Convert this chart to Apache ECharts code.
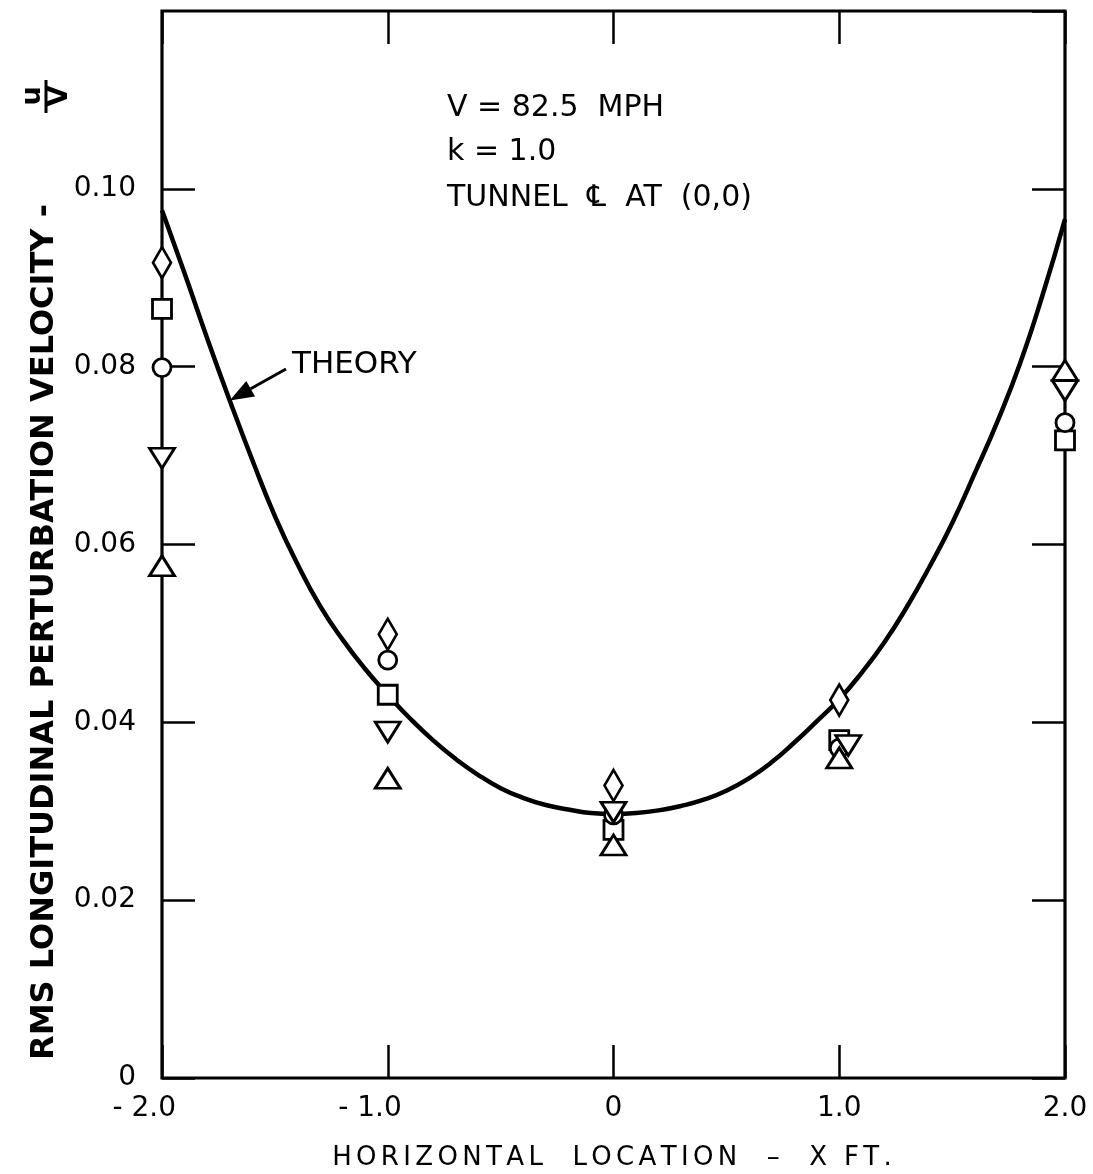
<!DOCTYPE html>
<html lang="en">
<head>
<meta charset="UTF-8">
<title>RMS longitudinal perturbation velocity</title>
<script src="https://cdn.jsdelivr.net/npm/echarts@6/dist/echarts.min.js"></script>
<style>
  html, body { margin: 0; padding: 0; background: #fff; }
  #main { width: 1093px; height: 1174px; }
</style>
</head>
<body>
<div id="main"></div>
<script>
// measured points, five symbols per station
const stationX = [-2, -1, 0, 1, 2];
const downTriX = [-2, -1, 0, 1.04, 2];
const diamondY = [0.0917, 0.0499, 0.0329, 0.0425, null];
const squareY = [0.0865, 0.0431, 0.0279, 0.0380, 0.0717];
const circleY = [0.0799, 0.0470, 0.0296, 0.0371, 0.0737];
const downTriY = [0.0697, 0.0389, 0.0299, 0.0374, 0.0773];
const upTriY = [0.0576, 0.0337, 0.0262, 0.0360, 0.0796];

// theory curve
const theoryX = [-2.0, -1.9, -1.8, -1.7, -1.6, -1.5, -1.4, -1.3, -1.2, -1.1, -1.0,
  -0.9, -0.8, -0.7, -0.6, -0.5, -0.4, -0.3, -0.2, -0.1, 0,
  0.1, 0.2, 0.3, 0.4, 0.5, 0.6, 0.7, 0.8, 0.9, 1.0,
  1.1, 1.2, 1.3, 1.4, 1.5, 1.6, 1.7, 1.8, 1.9, 2.0];
const theoryY = [0.0976, 0.0905, 0.0832, 0.0762, 0.0695, 0.0632, 0.0578, 0.0531, 0.0493, 0.0460, 0.0431,
  0.0404, 0.0380, 0.0359, 0.0341, 0.0326, 0.0315, 0.0307, 0.0302, 0.0298, 0.0297,
  0.0298, 0.0301, 0.0306, 0.0313, 0.0323, 0.0337, 0.0355, 0.0377, 0.0401, 0.0426,
  0.0456, 0.0490, 0.0530, 0.0575, 0.0624, 0.0680, 0.0738, 0.0803, 0.0880, 0.0966];

const notes = ['V = 82.5  MPH', 'k = 1.0', 'TUNNEL  \u2104  AT  (0,0)'];
const xTitle = 'HORIZONTAL  LOCATION  \u2013  X FT.';
const yTitle = 'RMS LONGITUDINAL PERTURBATION VELOCITY -';

const font = 'DejaVu Sans';
const chart = echarts.init(document.getElementById('main'));

function pairs(xs, ys) {
  const out = [];
  ys.forEach((y, i) => { if (y != null) out.push([xs[i], y]); });
  return out;
}

function marks(name, sym, size, rot, xs, ys) {
  return {
    name: name,
    type: 'scatter',
    symbol: sym,
    symbolSize: size,
    symbolRotate: rot,
    clip: false,
    z: 5,
    itemStyle: { color: '#fff', borderColor: '#000', borderWidth: 2.8, opacity: 1 },
    data: pairs(xs, ys)
  };
}

const tickStyle = { show: true, inside: true, length: 33, lineStyle: { color: '#000', width: 2.5 } };
const noLine = { show: false, onZero: false };

chart.setOption({
  animation: false,
  backgroundColor: '#fff',
  grid: {
    left: 162, right: 28, top: 11, bottom: 96,
    show: true, borderColor: '#000', borderWidth: 3.2
  },
  xAxis: [{
    type: 'value', min: -2, max: 2, interval: 1,
    axisLine: noLine,
    axisTick: tickStyle,
    splitLine: { show: false },
    axisLabel: {
      margin: 17, color: '#000', fontFamily: font, fontSize: 28,
      // the minus hangs to the left of the centred number
      formatter: v => v < 0 ? '- ' + Math.abs(v).toFixed(1) + '\u2007\u2007' : (v === 0 ? '0' : v.toFixed(1))
    }
  }, {
    type: 'value', position: 'top', min: -2, max: 2, interval: 1,
    axisLine: noLine, axisTick: tickStyle,
    splitLine: { show: false }, axisLabel: { show: false }
  }],
  yAxis: [{
    type: 'value', min: 0, max: 0.12, interval: 0.02,
    axisLine: noLine,
    axisTick: tickStyle,
    splitLine: { show: false },
    axisLabel: {
      margin: 26, color: '#000', fontFamily: font, fontSize: 28, showMaxLabel: false,
      formatter: v => v === 0 ? '0' : v.toFixed(2)
    }
  }, {
    type: 'value', position: 'right', min: 0, max: 0.12, interval: 0.02,
    axisLine: noLine, axisTick: tickStyle,
    splitLine: { show: false }, axisLabel: { show: false }
  }],
  series: [
    {
      name: 'Theory', type: 'line', smooth: true, symbol: 'none', z: 3,
      lineStyle: { color: '#000', width: 4.5 },
      data: theoryX.map((x, i) => [x, theoryY[i]])
    },
    marks('diamond', 'diamond', [18, 31], 0, stationX, diamondY),
    marks('square', 'rect', [19, 19], 0, stationX, squareY),
    marks('circle', 'circle', 18, 0, stationX, circleY),
    marks('down', 'triangle', [25, 20], 180, downTriX, downTriY),
    marks('up', 'triangle', [25, 20], 0, stationX, upTriY)
  ]
});

// annotations, arrow tip sits on the theory curve
const tip = chart.convertToPixel({ xAxisIndex: 0, yAxisIndex: 0 }, [-1.7, 0.0762]);
const tail = [286, 369];
const ang = Math.atan2(tip[1] - tail[1], tip[0] - tail[0]);
const head = 24, hw = 9;
const bx = tip[0] - head * Math.cos(ang), by = tip[1] - head * Math.sin(ang);

chart.setOption({
  graphic: [
    {
      type: 'text', x: 45, y: 632, rotation: Math.PI / 2,
      style: {
        text: yTitle,
        fontFamily: font, fontWeight: 'bold', fontSize: 32,
        fill: '#000', align: 'center', verticalAlign: 'middle'
      }
    },
    {
      type: 'text', x: 33, y: 96, rotation: Math.PI / 2,
      style: { text: 'u', fontFamily: font, fontWeight: 'bold', fontSize: 27, fill: '#000', align: 'center', verticalAlign: 'middle' }
    },
    {
      type: 'line', shape: { x1: 46, y1: 80, x2: 46, y2: 113 },
      style: { stroke: '#000', lineWidth: 3 }
    },
    {
      type: 'text', x: 60, y: 96, rotation: Math.PI / 2,
      style: { text: 'V', fontFamily: font, fontWeight: 'bold', fontSize: 27, fill: '#000', align: 'center', verticalAlign: 'middle' }
    },
    {
      type: 'text', x: 612, y: 1158,
      style: {
        text: xTitle.split('').join('\u2006'),
        fontFamily: font, fontSize: 26, fill: '#000',
        align: 'center', verticalAlign: 'middle'
      }
    },
    ...notes.map((t, i) => ({
      type: 'text', x: 447, y: [108, 152, 198][i],
      style: { text: t, fontFamily: font, fontSize: 30, fill: '#000', align: 'left', verticalAlign: 'middle' }
    })),
    {
      type: 'text', x: 292, y: 365,
      style: { text: 'THEORY', fontFamily: font, fontSize: 31, fill: '#000', align: 'left', verticalAlign: 'middle' }
    },
    {
      type: 'line', shape: { x1: tail[0], y1: tail[1], x2: bx, y2: by },
      style: { stroke: '#000', lineWidth: 3 }
    },
    {
      type: 'polygon',
      shape: {
        points: [
          tip,
          [bx + hw * Math.sin(ang), by - hw * Math.cos(ang)],
          [bx - hw * Math.sin(ang), by + hw * Math.cos(ang)]
        ]
      },
      style: { fill: '#000' }
    }
  ]
});
</script>
</body>
</html>
